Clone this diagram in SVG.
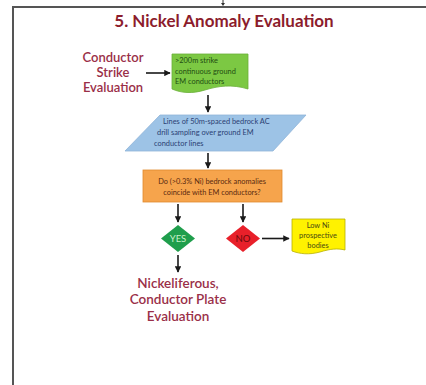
<svg xmlns="http://www.w3.org/2000/svg" width="426" height="385" viewBox="0 0 426 385">
  <defs>
    <marker id="arr" viewBox="0 0 10 10" refX="9" refY="5" markerWidth="4" markerHeight="4" orient="auto">
      <path d="M0,0 L10,5 L0,10 z" fill="#1a1a1a"/>
    </marker>
    <style>
      .frame { fill: none; stroke: #555; stroke-width: 2; }
      .conn line { stroke: #1a1a1a; stroke-width: 1.6; marker-end: url(#arr); }
      .head { font-family: Lato, "Open Sans", sans-serif; font-weight: bold; fill: #8c1c2c; }
      .lbl { font-family: Lato, "Open Sans", sans-serif; font-weight: 600; fill: #9a2f48; text-anchor: middle; }
      .small { font-family: Lato, "Open Sans", sans-serif; font-size: 7.4px; }
    </style>
  </defs>

  <rect width="426" height="385" fill="#ffffff"/>

  <!-- page frame: top and left edges only -->
  <path class="frame" d="M13,385 V7 H426"/>
  <line x1="223" y1="0" x2="223" y2="4" stroke="#333" stroke-width="1"/>
  <path d="M221,3 L225,3 L223,6 z" fill="#333"/>

  <text class="head" x="224" y="27" font-size="17" text-anchor="middle">5. Nickel Anomaly Evaluation</text>

  <g id="strike-label">
    <text class="lbl" font-size="13"><tspan x="113" y="62">Conductor</tspan><tspan x="113" y="77">Strike</tspan><tspan x="113" y="92">Evaluation</tspan></text>
  </g>

  <g id="em-conductors">
    <path d="M172,54 H248 V89 C232,84 218,86 205,90 C192,94 181,93 172,89 Z" fill="#7cc843" stroke="#6aae38" stroke-width="0.8"/>
    <text class="small" fill="#1f4d12"><tspan x="175" y="63">&gt;200m strike</tspan><tspan x="175" y="74">continuous ground</tspan><tspan x="175" y="84">EM conductors</tspan></text>
  </g>

  <g id="ac-drill">
    <path d="M160,115 H306 L273,151 H125 Z" fill="#9dc3e6" stroke="#8fb4d8" stroke-width="0.8"/>
    <text class="small" fill="#2b3f73"><tspan x="163" y="124">Lines of 50m-spaced bedrock AC</tspan><tspan x="157" y="135">drill sampling over ground EM</tspan><tspan x="154" y="146">conductor lines</tspan></text>
  </g>

  <g id="ni-question">
    <rect x="143" y="170" width="139" height="32" fill="#f6a44c" stroke="#e08a2e" stroke-width="0.8"/>
    <text class="small" fill="#5a2a10" text-anchor="middle"><tspan x="212" y="184">Do (&gt;0.3% Ni) bedrock  anomalies</tspan><tspan x="212" y="195">coincide with EM conductors?</tspan></text>
  </g>

  <g id="yes">
    <path d="M178,225 L195,238.5 L178,252 L161,238.5 Z" fill="#1f9e4c"/>
    <text x="178" y="242" font-family="Lato, Open Sans, sans-serif" font-size="9.5" fill="#c8f0c8" text-anchor="middle">YES</text>
  </g>

  <g id="no">
    <path d="M243,225 L260,238.5 L243,252 L226,238.5 Z" fill="#e8202a"/>
    <text x="243" y="242" font-family="Lato, Open Sans, sans-serif" font-size="9.5" fill="#6a0a0a" text-anchor="middle">NO</text>
  </g>

  <g id="low-ni">
    <path d="M292,219 H345 V250 C337,248 330,249 320,252 C309,255 300,254 292,251 Z" fill="#fff200" stroke="#b8b000" stroke-width="0.8"/>
    <text class="small" fill="#4a4a10" text-anchor="middle"><tspan x="318" y="228">Low Ni</tspan><tspan x="318" y="238">prospective</tspan><tspan x="318" y="248">bodies</tspan></text>
  </g>

  <g id="plate-eval">
    <text class="lbl" font-size="13.5"><tspan x="178" y="288">Nickeliferous,</tspan><tspan x="178" y="304">Conductor Plate</tspan><tspan x="178" y="321">Evaluation</tspan></text>
  </g>

  <g class="conn" id="connectors">
    <line x1="146" y1="73" x2="170" y2="73"/>
    <line x1="208" y1="95" x2="208" y2="112"/>
    <line x1="208" y1="153" x2="208" y2="168"/>
    <line x1="178" y1="204" x2="178" y2="222"/>
    <line x1="243" y1="204" x2="243" y2="222"/>
    <line x1="262" y1="238.5" x2="289" y2="238.5"/>
    <line x1="178" y1="255" x2="178" y2="272"/>
  </g>
</svg>
